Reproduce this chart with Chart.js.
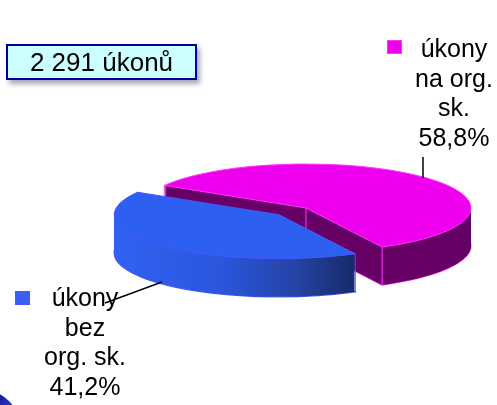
<!DOCTYPE html>
<html>
<head>
<meta charset="utf-8">
<script src="https://cdn.jsdelivr.net/npm/chart.js@4/dist/chart.umd.min.js"></script>
<style>
  html, body { margin: 0; padding: 0; background: #fff; }
  #wrap { position: relative; width: 497px; height: 405px; overflow: hidden; }
  #chart { position: absolute; left: 0; top: 0; }
  #total {
    position: absolute; left: 6px; top: 44px; width: 187px; height: 32px;
    background: #ccffff; border: 2px solid #000099;
    box-shadow: 3px 4px 5px rgba(0, 0, 60, 0.35);
    font: 26px "Liberation Sans", Arial, sans-serif; color: #000;
    text-align: center; line-height: 33px;
  }
</style>
</head>
<body>
<div id="wrap">
  <canvas id="chart" width="497" height="405"></canvas>
  <div id="total"></div>
</div>
<script>
// data
const categories = [['úkony', 'bez', 'org. sk.'], ['úkony', 'na org.', 'sk.']];
const values = [41.2, 58.8];
const totalCount = 2291;

// styles
const topColors = ['#2d5ff0', '#ee00ee'];
const topBorders = ['#4a55ff', '#ff33ff'];
const keyColors = ['#3b5ff5', '#ee00ee'];
const sideColors = [null, '#660066'];
const explode = [37, 0];
const K = 0.267;     // vertical squash of the pie
const DEPTH = 38;    // thickness of the pie in px
const CY = 208;      // screen y of the pie centre
const labelAnchors = [{ x: 85, y: 306, key: [15, 291] }, { x: 454, y: 57, key: [387, 40] }];
const leaderLines = [[105, 303, 162, 282], [423, 157, 423, 178]];

function fmtThousands(n) {
  return String(n).replace(/\B(?=(\d{3})+(?!\d))/g, ' ');
}
document.getElementById('total').textContent = fmtThousands(totalCount) + ' úkonů';

function pct(i) {
  const sum = values.reduce((a, b) => a + b, 0);
  return (values[i] / sum * 100).toFixed(1).replace('.', ',') + '%';
}

function drawWith(ctx, el, opts) {
  const f = Object.create(el);
  f.options = Object.assign({}, el.options, opts);
  f.draw(ctx);
}

function withSlice(ctx, el, dx, dy, d, fn) {
  ctx.save();
  ctx.translate(0, CY + d);
  ctx.scale(1, K);
  ctx.translate(dx, dy - el.y);
  fn();
  ctx.restore();
}

function slicePath(ctx, el, dx, dy, d) {
  withSlice(ctx, el, dx, dy, d, () => {
    ctx.beginPath();
    ctx.moveTo(el.x, el.y);
    ctx.arc(el.x, el.y, el.outerRadius, el.startAngle, el.endAngle);
    ctx.closePath();
  });
}

// screen position of a point of the top face
function topPoint(el, dx, dy, ang, rad) {
  return [el.x + dx + Math.cos(ang) * rad, CY + (dy + Math.sin(ang) * rad) * K];
}

const pie3d = {
  id: 'pie3d',
  beforeDatasetsDraw(chart) {
    const ctx = chart.ctx;
    const meta = chart.getDatasetMeta(0);
    const mid = el => (el.startAngle + el.endAngle) / 2;
    const order = meta.data.map((el, i) => ({ el, i }))
      .sort((a, b) => Math.sin(mid(a.el)) - Math.sin(mid(b.el)));

    order.forEach(({ el, i }) => {
      const m = mid(el);
      const dx = Math.cos(m) * explode[i];
      const dy = Math.sin(m) * explode[i];
      let side = sideColors[i];
      if (!side) {
        const r = el.outerRadius;
        side = ctx.createLinearGradient(el.x - r, 0, el.x + r * 0.46, 0);
        side.addColorStop(0, '#3062f2');
        side.addColorStop(0.45, '#2b56dc');
        side.addColorStop(0.75, '#2444a6');
        side.addColorStop(1, '#182a68');
      }
      // bottom rim outline
      slicePath(ctx, el, dx, dy, DEPTH);
      ctx.lineWidth = 1.2;
      ctx.strokeStyle = topBorders[i];
      ctx.stroke();
      // side walls
      for (let d = DEPTH; d >= 1; d--) {
        withSlice(ctx, el, dx, dy, d, () => {
          drawWith(ctx, el, { backgroundColor: side, borderWidth: 0, offset: 0 });
        });
      }
      // vertical edges of the walls
      ctx.lineWidth = 1;
      ctx.strokeStyle = topBorders[i];
      [[el.startAngle, el.outerRadius], [el.endAngle, el.outerRadius], [0, 0]].forEach(([a, rad]) => {
        const p = topPoint(el, dx, dy, a, rad);
        ctx.beginPath();
        ctx.moveTo(p[0], p[1]);
        ctx.lineTo(p[0], p[1] + DEPTH);
        ctx.stroke();
      });
      // top face
      withSlice(ctx, el, dx, dy, 0, () => {
        drawWith(ctx, el, { backgroundColor: topColors[i], borderWidth: 0, offset: 0 });
      });
      slicePath(ctx, el, dx, dy, 0);
      ctx.lineWidth = 1;
      ctx.strokeStyle = topBorders[i];
      ctx.stroke();
    });
    return false;
  },
  afterDraw(chart) {
    const ctx = chart.ctx;
    ctx.save();
    // leader lines
    ctx.strokeStyle = '#000';
    ctx.lineWidth = 1.5;
    leaderLines.forEach(l => {
      ctx.beginPath();
      ctx.moveTo(l[0], l[1]);
      ctx.lineTo(l[2], l[3]);
      ctx.stroke();
    });
    // data labels with legend keys
    ctx.font = '25px "Liberation Sans", Arial, sans-serif';
    ctx.textAlign = 'center';
    ctx.textBaseline = 'alphabetic';
    categories.forEach((lines, i) => {
      const a = labelAnchors[i];
      ctx.fillStyle = '#000';
      lines.concat([pct(i)]).forEach((t, j) => ctx.fillText(t, a.x, a.y + j * 29.7));
      ctx.fillStyle = keyColors[i];
      ctx.fillRect(a.key[0], a.key[1], 15, 14);
      ctx.strokeStyle = topBorders[i];
      ctx.lineWidth = 1;
      ctx.strokeRect(a.key[0] + 0.5, a.key[1] + 0.5, 14, 13);
    });
    // frame corner peeking in at bottom left
    ctx.beginPath();
    ctx.arc(-20, 430, 41, 0, Math.PI * 2);
    const g = ctx.createLinearGradient(0, 390, 14, 405);
    g.addColorStop(0, '#10108a');
    g.addColorStop(1, '#2a3fd0');
    ctx.fillStyle = g;
    ctx.fill();
    ctx.restore();
  }
};

new Chart(document.getElementById('chart'), {
  type: 'pie',
  data: {
    labels: categories,
    datasets: [{
      data: values,
      backgroundColor: topColors,
      borderWidth: 0
    }]
  },
  options: {
    responsive: false,
    animation: false,
    rotation: 152.5,
    layout: { padding: { left: 141, right: 26, top: 37.5, bottom: 37.5 } },
    plugins: {
      legend: { display: false },
      tooltip: { enabled: false }
    }
  },
  plugins: [pie3d]
});
</script>
</body>
</html>
